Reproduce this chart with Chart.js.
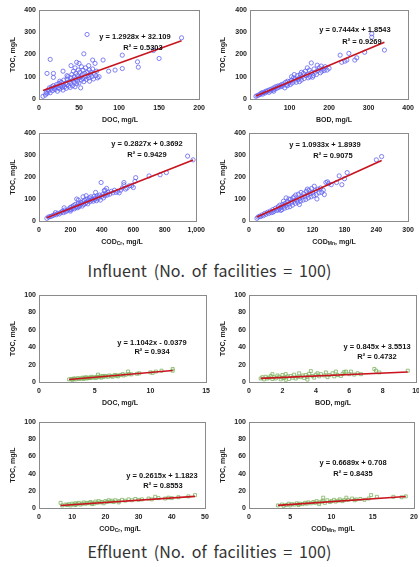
<!DOCTYPE html>
<html>
<head>
<meta charset="utf-8">
<script src="https://cdn.jsdelivr.net/npm/chart.js@4.4.0/dist/chart.umd.min.js"></script>
<style>
  body { margin: 0; width: 419px; height: 567px; overflow: hidden; background: #fff; position: relative; font-family: "Liberation Sans", Arial, sans-serif; }
  .pane { position: absolute; }
  .eq, .xt { position: absolute; transform: translate(-50%, -50%); font-weight: bold; font-size: 7.5px; white-space: nowrap; color: #111; }
  .xt { font-size: 7px; color: #222; }
  .xt sub { font-size: 5px; vertical-align: -1px; }
  .cap { position: absolute; left: 0; width: 419px; text-align: center; font-family: "Noto Sans CJK KR", "Noto Sans", sans-serif; font-size: 16px; line-height: 20px; color: #333; word-spacing: 3px; letter-spacing: 0.1px; }
</style>
</head>
<body>
<div class="cap" style="top:260px">Influent (No. of facilities = 100)</div>
<div class="cap" style="top:541px">Effluent (No. of facilities = 100)</div>

<script>
// ---- influent ----
const inDocX = [5,8,9,10,11,12,13,14,15,16,17,18,19,20,21,22,23,24,25,26,27,28,29,30,30,31,32,33,34,35,35,36,37,38,39,40,40,41,42,42,43,44,44,45,45,46,46,47,47,48,48,49,50,50,51,52,52,53,53,54,55,55,56,56,57,58,58,59,60,60,61,62,63,63,64,65,66,67,67,68,69,70,71,72,73,75,80,87,95,104,104,123,124,143,150,178,14,10,18,18,30,26,35,40,50,62];
const inDocY = [12,18,30,25,40,35,50,28,45,55,38,60,48,42,55,65,35,50,70,45,58,75,52,62,40,85,55,70,48,90,65,100,58,78,52,95,70,110,60,85,125,75,100,55,140,90,115,165,68,105,80,130,95,72,120,50,100,85,145,110,92,130,203,78,115,100,140,88,290,120,105,95,130,80,110,120,100,175,135,90,115,160,105,125,95,100,175,125,130,197,137,167,143,218,182,275,178,115,115,97,125,80,105,150,160,150];

const inBodX = [15,18,22,25,28,30,32,35,38,40,42,45,48,50,52,55,58,60,62,65,68,70,72,75,78,80,82,85,88,90,92,95,97,100,102,105,107,110,112,115,117,120,122,125,127,130,132,135,137,140,142,145,147,150,152,155,155,158,160,162,165,168,170,172,175,178,180,182,185,188,190,195,200,228,232,240,245,250,265,270,290,308,308,340,95,105,125,145,60,130,112];
const inBodY = [12,15,18,20,25,28,22,30,27,35,32,38,30,42,36,45,40,50,44,55,48,58,52,60,55,65,58,68,50,75,62,80,70,78,65,85,72,95,80,90,75,105,88,95,110,85,100,115,92,125,105,110,95,130,100,162,118,98,105,135,120,110,152,128,140,118,148,125,135,128,145,130,138,197,165,170,175,205,175,185,210,293,278,220,60,100,78,140,35,120,110];

const inCrX = [50,60,70,80,90,100,105,110,120,130,140,150,155,160,165,170,180,190,195,200,205,210,215,220,225,230,235,240,240,245,250,255,260,265,270,275,280,280,285,290,295,300,305,310,315,320,325,330,335,340,345,350,355,360,360,365,370,375,380,385,390,395,400,405,410,415,420,425,430,435,440,450,460,470,480,490,500,510,520,530,540,540,550,560,575,590,600,610,615,700,770,810,945,980,300,420,250,200];
const inCrY = [12,18,20,22,25,30,38,28,35,32,40,45,38,60,50,42,48,55,50,62,52,65,58,70,55,75,62,100,68,60,80,65,72,85,78,68,110,88,75,95,80,85,100,78,92,105,88,110,95,100,90,112,98,130,105,92,115,100,108,118,95,175,112,120,105,138,115,125,148,118,130,122,135,128,140,130,135,128,140,150,175,165,145,150,160,160,152,180,197,205,210,220,295,278,115,140,95,45];

const inMnX = [15,17,20,22,25,27,30,32,35,37,40,42,45,47,50,52,55,57,58,60,62,63,65,67,68,70,70,72,73,75,77,78,80,82,83,85,87,88,90,92,93,95,97,98,100,102,103,105,107,108,110,112,113,115,117,118,120,122,123,125,127,128,130,132,135,137,140,142,145,148,150,155,165,170,175,180,185,240,250,60,55,85,110,95,75,45,65];
const inMnY = [12,18,22,20,28,24,35,30,40,34,45,38,52,44,58,48,65,55,72,62,52,75,68,58,80,72,105,62,88,78,65,98,85,72,105,90,80,118,95,85,122,102,90,130,108,95,125,112,98,135,118,105,140,125,110,148,130,115,158,138,120,100,145,128,150,130,140,120,175,178,170,165,175,205,165,192,220,278,293,48,50,110,145,75,100,40,90];

// ---- effluent ----
const efDocX = [2.7,2.9,3.0,3.2,3.3,3.5,3.6,3.8,3.9,4.0,4.1,4.2,4.3,4.5,4.6,4.7,4.8,5.0,5.1,5.2,5.3,5.4,5.5,5.6,5.8,5.9,6.0,6.2,6.3,6.5,6.6,6.8,7.0,7.1,7.3,7.5,7.6,7.8,8.0,8.1,8.8,9.0,10.0,10.2,10.5,11.0,12.0,12.0,3.1,4.4,5.7,6.9,8.3];
const efDocY = [3,3.5,2.5,4,3,4.5,3.5,4,5,3.5,4.5,5.5,4,5,4.5,6,5,5.5,4.5,6,8.5,5.5,6.5,5,6,7,6.5,6,7.5,7,6,8,7.5,6.5,8,9,7.5,8.5,12,9,9.5,10,11,10.5,12,13,15,13,3.8,4.8,6.8,7.2,8.8];

const efBodX = [0.7,0.8,0.9,1.0,1.1,1.2,1.3,1.4,1.4,1.5,1.6,1.7,1.8,1.9,2.0,2.0,2.1,2.2,2.3,2.4,2.5,2.6,2.7,2.8,2.9,3.0,3.1,3.2,3.3,3.4,3.5,3.6,3.7,3.8,3.9,4.0,4.1,4.2,4.3,4.5,4.6,4.7,4.8,5.0,5.1,5.2,5.3,5.5,5.6,5.7,5.8,6.0,6.1,6.3,6.5,6.7,7.5,7.6,7.8,9.5,2.2,3.5];
const efBodY = [4,5.5,3,6,4,5,7,9,3.5,5.5,4,7.5,6,3,8,5,4.5,9,6.5,3.5,7,5,8.5,4,6,10,5.5,7.5,4.5,8,6,9.5,12.5,7,5,8.5,10,6.5,9,7.5,11,5.5,8,10,6.5,12,8,7,9.5,11.5,12,9,12,8.5,10,9,15,13,11,13,2.5,2.8];

const efCrX = [6.5,7,8,8.5,9,9.5,10,10.5,11,11.5,12,12.5,13,13.5,14,14.5,15,15.5,16,16.5,17,17.5,18,18.5,19,19.5,20,20.5,21,21.5,22,22.5,23,24,25,26,27,28,29,30,31,33,34,35,36,38,39,40,42,45,47,11,16,24];
const efCrY = [6,3,4,3.5,4.5,3,5,4,5.5,4.5,6,4,5,6.5,5,6,5.5,7,6,5,7.5,6,8,6.5,7,5.5,8,7,9,7.5,8.5,7,9,8,9.5,8.5,10,9,10.5,9.5,10,11,10,13,11.5,11,12,11.5,12.5,13.5,15,3.5,4.5,6.5];

const efMnX = [3.5,4,4.2,4.5,4.8,5,5.2,5.5,5.8,6,6.2,6.5,6.8,7,7.2,7.5,7.8,8,8.2,8.5,8.8,9,9,9.2,9.5,9.8,10,10.3,10.5,10.8,11,11.3,11.5,12,12.5,12.8,13,13.5,14,14.5,14.8,15.5,17.5,18.5,19,6,8.5,11.8];
const efMnY = [3,4,2.5,3.5,5,3,4.5,4,5.5,3.5,5,4.5,6,5,6.5,5.5,7,6,8,6.5,7.5,12,8.5,6,9,7,8,9.5,7.5,8.5,10,8,9,9.5,11,9,10,10.5,9.5,11,15,13,13,12.5,13.5,4.2,4.5,12];

// trend line coefficients as printed on each panel
const slopes = [1.2928, 0.7444, 0.2827, 1.0933, 1.1042, 0.845, 0.2615, 0.6689];
const icpts  = [32.109, 1.8543, 0.3692, 1.8939, -0.0379, 3.5513, 1.1823, 0.708];
const eqText = ['y = 1.2928x + 32.109', 'y = 0.7444x + 1.8543', 'y = 0.2827x + 0.3692', 'y = 1.0933x + 1.8939',
                'y = 1.1042x - 0.0379', 'y = 0.845x + 3.5513', 'y = 0.2615x + 1.1823', 'y = 0.6689x + 0.708'];
const r2Text = ['R² = 0.5303', 'R² = 0.9269', 'R² = 0.9429', 'R² = 0.9075', 'R² = 0.934', 'R² = 0.4732', 'R² = 0.8553', 'R² = 0.8435'];
const xTitles = ['DOC, mg/L', 'BOD, mg/L', 'COD<sub>Cr</sub>, mg/L', 'COD<sub>Mn</sub>, mg/L',
                 'DOC, mg/L', 'BOD, mg/L', 'COD<sub>Cr</sub>, mg/L', 'COD<sub>Mn</sub>, mg/L'];
const xMax  = [200, 400, 1000, 300, 15, 10, 50, 20];
const xStep = [50, 100, 200, 60, 5, 2, 10, 5];
const yMax  = [400, 400, 400, 400, 100, 100, 100, 100];
const yStep = [100, 100, 100, 100, 20, 20, 20, 20];

const xs = [inDocX, inBodX, inCrX, inMnX, efDocX, efBodX, efCrX, efMnX];
const ys = [inDocY, inBodY, inCrY, inMnY, efDocY, efBodY, efCrY, efMnY];

// where each panel sits (canvas box + plot area inside it), and its labels
const panes = [
  { left: 0,   top: 0,   w: 210, L: 39, R: 200, T: 10, B: 99, eq: [135, 36], r2: [143, 47], xt: [120, 119] },
  { left: 210, top: 0,   w: 209, L: 40, R: 200, T: 10, B: 99, eq: [355, 29], r2: [362, 41], xt: [334, 119] },
  { left: 0,   top: 123, w: 210, L: 39, R: 200, T: 10, B: 98, eq: [147, 143], r2: [147, 154], xt: [122, 242] },
  { left: 210, top: 123, w: 209, L: 39, R: 201, T: 10, B: 98, eq: [325, 144], r2: [333, 155], xt: [334, 242] },
  { left: 0,   top: 285, w: 215, L: 39, R: 207, T: 10, B: 97, eq: [152, 342], r2: [152, 351], xt: [120, 402] },
  { left: 210, top: 285, w: 215, L: 39, R: 207, T: 10, B: 97, eq: [377, 346], r2: [377, 356], xt: [333, 402] },
  { left: 0,   top: 412, w: 215, L: 39, R: 205, T: 10, B: 96, eq: [162, 475], r2: [163, 485], xt: [120, 529] },
  { left: 210, top: 412, w: 215, L: 39, R: 204, T: 10, B: 96, eq: [353, 462], r2: [353, 473], xt: [333, 529] }
];
const H = 125;

// grey frame round the plot area, drawn under the points
const framePlugin = {
  id: 'frame',
  beforeDatasetsDraw(chart) {
    const a = chart.chartArea, c = chart.ctx;
    c.save();
    c.strokeStyle = '#8a8a8a';
    c.lineWidth = 1;
    c.strokeRect(Math.round(a.left) + 0.5, Math.round(a.top) + 0.5, Math.round(a.width), Math.round(a.height));
    c.restore();
  }
};

const tickFont = { family: '"Liberation Sans", Arial, sans-serif', size: 7, weight: 'bold' };

function addText(cls, html, pos) {
  const d = document.createElement('div');
  d.className = cls;
  d.innerHTML = html;
  d.style.left = pos[0] + 'px';
  d.style.top = pos[1] + 'px';
  document.body.appendChild(d);
}

panes.forEach((p, i) => {
  const wrap = document.createElement('div');
  wrap.className = 'pane';
  wrap.style.left = p.left + 'px';
  wrap.style.top = p.top + 'px';
  const cv = document.createElement('canvas');
  cv.width = p.w; cv.height = H;
  cv.style.width = p.w + 'px'; cv.style.height = H + 'px';
  wrap.appendChild(cv);
  document.body.appendChild(wrap);

  const effluent = i >= 4;
  const pts = xs[i].map((v, k) => ({ x: v, y: ys[i][k] }));
  const lo = Math.min(...xs[i]), hi = Math.max(...xs[i]);
  const fit = [lo, hi].map(v => ({ x: v, y: slopes[i] * v + icpts[i] }));

  new Chart(cv, {
    type: 'scatter',
    data: {
      datasets: [
        { data: fit, showLine: true, borderColor: '#c8141e', borderWidth: 1.6, pointRadius: 0, order: 0 },
        { data: pts, pointStyle: effluent ? 'rect' : 'circle', pointRadius: 2.1,
          borderColor: effluent ? '#7db25f' : '#6262f2', borderWidth: 0.8,
          backgroundColor: 'rgba(255,255,255,0)', order: 1 }
      ]
    },
    options: {
      responsive: false,
      animation: false,
      layout: { padding: { left: 0, top: p.T, right: p.w - p.R, bottom: 0 } },
      plugins: { legend: { display: false }, tooltip: { enabled: false } },
      scales: {
        x: {
          type: 'linear', min: 0, max: xMax[i],
          grid: { display: false, drawTicks: false },
          border: { display: false },
          ticks: { stepSize: xStep[i], padding: 5, color: '#222', font: tickFont, maxRotation: 0, autoSkip: false,
                   callback: v => v.toLocaleString('en-US') },
          afterFit: s => { s.height = H - p.B; }
        },
        y: {
          min: 0, max: yMax[i],
          grid: { display: false, drawTicks: false },
          border: { display: false },
          ticks: { stepSize: yStep[i], padding: 3, color: '#222', font: tickFont },
          title: { display: true, text: 'TOC, mg/L', color: '#222', font: tickFont, padding: { top: 9, bottom: 0 } },
          afterFit: s => { s.width = p.L; }
        }
      }
    },
    plugins: [framePlugin]
  });

  addText('eq', eqText[i], p.eq);
  addText('eq', r2Text[i], p.r2);
  addText('xt', xTitles[i], p.xt);
});
</script>
</body>
</html>
